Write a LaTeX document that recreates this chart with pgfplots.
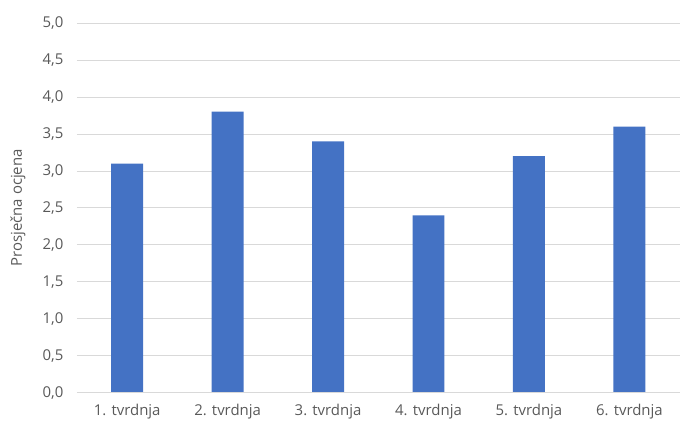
\documentclass[border=0pt]{standalone}
\usepackage{pgfplots}
\pgfplotsset{compat=1.18}
\usepackage{fontspec}
\setmainfont{Open Sans}
\definecolor{barblue}{HTML}{4472C4}
\definecolor{txtgray}{HTML}{595959}
\definecolor{gridgray}{HTML}{D9D9D9}
\begin{document}
\begin{tikzpicture}
\begin{axis}[
  at={(0,0)}, anchor=south west,
  scale only axis, width=603bp, height=370bp,
  xmin=-0.5, xmax=5.5, ymin=0, ymax=5,
  xtick={0,1,2,3,4,5},
  xticklabels={1. tvrdnja,2. tvrdnja,3. tvrdnja,4. tvrdnja,5. tvrdnja,6. tvrdnja},
  ytick={0,0.5,1,1.5,2,2.5,3,3.5,4,4.5,5},
  yticklabel={\pgfmathprintnumber[fixed,fixed zerofill,precision=1,use comma]{\tick}},
  /pgf/number format/assume math mode=true,
  ymajorgrids, grid style={gridgray, line width=0.8pt},
  axis line style={draw=none},
  axis x line*=bottom, axis y line*=left,
  major tick length=0pt,
  tick style={draw=none},
  ticklabel style={font=\fontsize{15}{17}\selectfont, text=txtgray},
  yticklabel style={xshift=-10bp},
  xticklabel style={yshift=-8bp},
  ylabel={Prosječna ocjena},
  every axis y label/.style={at={(-59bp,185bp)}, rotate=90, anchor=center, font=\fontsize{15}{17}\selectfont, text=txtgray},
  clip=false,
]
\addplot[ybar, bar width=32bp, fill=barblue, draw=none] coordinates {
  (0,3.1) (1,3.8) (2,3.4) (3,2.4) (4,3.2) (5,3.6)
};
\draw[gridgray, line width=0.8pt] (axis cs:-0.5,0) -- (axis cs:5.5,0);
\end{axis}
\useasboundingbox (-77bp,-30bp) rectangle (603bp,393bp);
\end{tikzpicture}
\end{document}
